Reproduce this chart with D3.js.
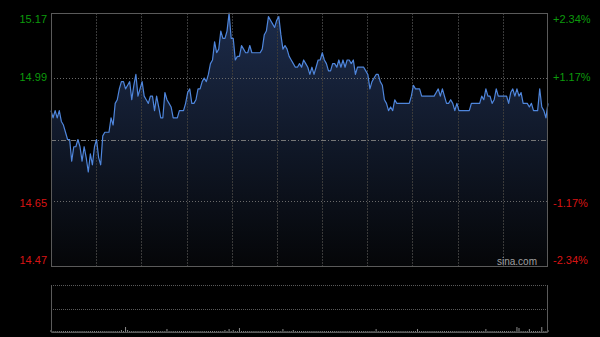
<!DOCTYPE html>
<html>
<head>
<meta charset="utf-8">
<script src="https://cdn.jsdelivr.net/npm/d3@7"></script>
<style>
  html, body { margin: 0; padding: 0; background: #000; }
  svg { display: block; font-family: "Liberation Sans", Arial, sans-serif; }
</style>
</head>
<body>
<div id="chart"></div>
<script>
// price per minute (241 points, 9:30 - 15:00)
const prices = [
  14.90, 14.88, 14.90, 14.88, 14.90, 14.87, 14.86, 14.84, 14.82, 14.82,
  14.76, 14.80, 14.80, 14.82, 14.80, 14.76, 14.80, 14.77, 14.73, 14.78,
  14.75, 14.80, 14.82, 14.77, 14.75, 14.83, 14.84, 14.84, 14.84, 14.88,
  14.86, 14.92, 14.93, 14.96, 14.98, 14.98, 14.96, 14.97, 14.98, 14.93,
  14.97, 15.00, 14.94, 14.96, 14.98, 14.94, 14.93, 14.92, 14.94, 14.94,
  14.90, 14.94, 14.91, 14.88, 14.88, 14.95, 14.93, 14.92, 14.91, 14.88,
  14.88, 14.88, 14.90, 14.90, 14.90, 14.92, 14.95, 14.96, 14.92, 14.92,
  14.93, 14.96, 14.96, 14.98, 14.99, 14.98, 15.00, 15.03, 15.04, 15.09,
  15.06, 15.07, 15.12, 15.10, 15.10, 15.12, 15.17, 15.10, 15.10, 15.04,
  15.05, 15.05, 15.08, 15.07, 15.06, 15.06, 15.08, 15.06, 15.06, 15.06,
  15.06, 15.06, 15.07, 15.11, 15.12, 15.16, 15.15, 15.14, 15.13, 15.15,
  15.16, 15.11, 15.07, 15.08, 15.07, 15.05, 15.04, 15.03, 15.02, 15.02,
  15.03, 15.02, 15.04, 15.03, 15.02, 15.00, 15.02, 15.00, 15.02, 15.04,
  15.04, 15.06, 15.04, 15.03, 15.01, 15.01, 15.03, 15.03, 15.02, 15.04,
  15.02, 15.04, 15.02, 15.04, 15.04, 15.03, 15.04, 15.00, 15.02, 15.02,
  15.02, 15.02, 15.01, 15.00, 14.96, 14.98, 14.99, 15.00, 15.00, 14.98,
  14.97, 14.93, 14.92, 14.90, 14.91, 14.90, 14.93, 14.92, 14.92, 14.92,
  14.92, 14.92, 14.92, 14.92, 14.94, 14.97, 14.96, 14.96, 14.96, 14.94,
  14.94, 14.94, 14.94, 14.94, 14.94, 14.94, 14.95, 14.96, 14.94, 14.96,
  14.94, 14.92, 14.92, 14.93, 14.92, 14.90, 14.92, 14.90, 14.90, 14.90,
  14.90, 14.90, 14.90, 14.92, 14.92, 14.92, 14.92, 14.92, 14.94, 14.93,
  14.96, 14.94, 14.94, 14.92, 14.93, 14.96, 14.94, 14.94, 14.94, 14.94,
  14.94, 14.92, 14.95, 14.96, 14.94, 14.96, 14.94, 14.95, 14.92, 14.92,
  14.92, 14.91, 14.92, 14.90, 14.90, 14.90, 14.96, 14.91, 14.90, 14.88,
  14.92
];

// volume per minute (same index as prices)
const volumes = [
  2, 1, 1, 1, 1, 1, 1, 1, 1, 1, 1, 1, 1, 1, 1, 1, 1, 1, 1, 1,
  1, 1, 1, 1, 1, 1, 1, 1, 1, 1, 1, 1, 1, 1, 2, 1, 5, 2, 1, 1,
  1, 1, 1, 1, 1, 1, 1, 1, 1, 1, 1, 1, 1, 1, 1, 1, 3, 1, 1, 1,
  1, 1, 1, 1, 1, 1, 1, 1, 1, 1, 1, 1, 1, 1, 1, 1, 1, 1, 1, 1,
  1, 1, 1, 1, 2, 1, 3, 1, 2, 1, 1, 4, 1, 1, 1, 1, 1, 1, 1, 1,
  1, 1, 1, 1, 1, 1, 1, 1, 1, 1, 1, 1, 3, 1, 1, 1, 1, 2, 1, 1,
  1, 1, 1, 1, 1, 1, 1, 1, 1, 1, 1, 1, 1, 1, 1, 1, 1, 1, 1, 1,
  1, 1, 1, 1, 1, 1, 1, 1, 1, 1, 1, 1, 1, 1, 1, 1, 1, 3, 1, 1,
  1, 1, 1, 1, 1, 1, 1, 1, 1, 1, 1, 1, 1, 1, 1, 1, 1, 3, 1, 1,
  1, 1, 1, 1, 1, 1, 1, 1, 1, 1, 1, 1, 1, 1, 1, 1, 1, 1, 1, 1,
  1, 1, 1, 1, 1, 1, 1, 1, 1, 1, 3, 1, 1, 1, 1, 1, 1, 1, 1, 1,
  1, 1, 1, 1, 1, 5, 4, 1, 1, 1, 1, 3, 1, 1, 1, 1, 1, 5, 1, 1,
  2
];

const priceTicks = [15.17, 14.99, 14.65, 14.47];
const pctLabels = ["+2.34%", "+1.17%", "-1.17%", "-2.34%"];
const prevClose = 14.82;
const upColor = "#0c9a0c";
const downColor = "#d81414";

const width = 600, height = 337;
const plot = { left: 51, right: 548, top: 13, bottom: 266 };
const vol = { top: 285, bottom: 332 };

const svg = d3.select("#chart").append("svg")
  .attr("width", width)
  .attr("height", height);

svg.append("rect").attr("width", width).attr("height", height).attr("fill", "#000");

const x = d3.scaleLinear().domain([0, prices.length - 1]).range([plot.left, plot.right]);
const y = d3.scaleLinear().domain([14.47, 15.17]).range([plot.bottom, plot.top]);
const yVol = d3.scaleLinear().domain([0, 47]).range([vol.bottom, vol.top]);

// gradient under the price line
const grad = svg.append("defs").append("linearGradient")
  .attr("id", "areaGrad")
  .attr("gradientUnits", "userSpaceOnUse")
  .attr("x1", 0).attr("x2", 0)
  .attr("y1", plot.top).attr("y2", plot.bottom);
grad.append("stop").attr("offset", "0%").attr("stop-color", "#1c2b4a");
grad.append("stop").attr("offset", "100%").attr("stop-color", "#050608");

const area = d3.area()
  .x((d, i) => x(i))
  .y0(plot.bottom)
  .y1((d) => y(d));

svg.append("path")
  .datum(prices)
  .attr("d", area)
  .attr("fill", "url(#areaGrad)");

// vertical grid (11 divisions)
const vTicks = d3.range(1, 11).map((k) => k * (prices.length - 1) / 11);
svg.selectAll(".vgrid")
  .data(vTicks)
  .enter()
  .append("line")
  .attr("x1", (d) => Math.round(x(d)) + 0.5)
  .attr("x2", (d) => Math.round(x(d)) + 0.5)
  .attr("y1", plot.top)
  .attr("y2", plot.bottom)
  .attr("stroke", "#3a3a3a")
  .attr("stroke-dasharray", "2,1");

// horizontal grid
svg.selectAll(".hgrid")
  .data([14.99, 14.65])
  .enter()
  .append("line")
  .attr("x1", plot.left)
  .attr("x2", plot.right)
  .attr("y1", (d) => Math.round(y(d)) + 0.5)
  .attr("y2", (d) => Math.round(y(d)) + 0.5)
  .attr("stroke", "#6a6a6a")
  .attr("stroke-dasharray", "1,2");

// previous close line
svg.append("line")
  .attr("x1", plot.left)
  .attr("x2", plot.right)
  .attr("y1", Math.round(y(prevClose)) + 0.5)
  .attr("y2", Math.round(y(prevClose)) + 0.5)
  .attr("stroke", "#777")
  .attr("stroke-dasharray", "5,2,1,2");

// price line
const line = d3.line()
  .x((d, i) => x(i))
  .y((d) => y(d));

svg.append("path")
  .datum(prices)
  .attr("d", line)
  .attr("fill", "none")
  .attr("stroke", "#4f86dc")
  .attr("stroke-width", 1.2)
  .attr("stroke-linejoin", "round");

// plot frame
svg.append("rect")
  .attr("x", plot.left + 0.5)
  .attr("y", plot.top + 0.5)
  .attr("width", plot.right - plot.left - 1)
  .attr("height", plot.bottom - plot.top)
  .attr("fill", "none")
  .attr("stroke", "#5a5a5a");

// left price labels
const labelY = [19, 77, 203, 260];
svg.selectAll(".plabel")
  .data(priceTicks)
  .enter()
  .append("text")
  .attr("x", 47)
  .attr("y", (d, i) => labelY[i])
  .attr("dy", "0.35em")
  .attr("text-anchor", "end")
  .style("font-size", "11px")
  .attr("fill", (d) => (d > prevClose ? upColor : downColor))
  .text((d) => d.toFixed(2));

// right percent labels
svg.selectAll(".pctlabel")
  .data(pctLabels)
  .enter()
  .append("text")
  .attr("x", 553)
  .attr("y", (d, i) => labelY[i])
  .attr("dy", "0.35em")
  .style("font-size", "11px")
  .attr("fill", (d) => (d[0] === "+" ? upColor : downColor))
  .text((d) => d);

// watermark
svg.append("text")
  .attr("x", 537)
  .attr("y", 265)
  .attr("text-anchor", "end")
  .style("font-size", "10px")
  .attr("fill", "#a0a0a0")
  .text("sina.com");

// volume panel
svg.selectAll(".vgridv")
  .data([vol.top, (vol.top + vol.bottom) / 2])
  .enter()
  .append("line")
  .attr("x1", plot.left)
  .attr("x2", plot.right)
  .attr("y1", (d) => Math.round(d) + 0.5)
  .attr("y2", (d) => Math.round(d) + 0.5)
  .attr("stroke", "#5a5a5a")
  .attr("stroke-dasharray", "1,1");

svg.selectAll(".volbar")
  .data(volumes)
  .enter()
  .append("line")
  .attr("x1", (d, i) => x(i))
  .attr("x2", (d, i) => x(i))
  .attr("y1", vol.bottom)
  .attr("y2", (d) => yVol(d))
  .attr("stroke", "#8a8a8a")
  .attr("stroke-width", 1);

svg.append("path")
  .attr("d", `M${plot.left + 0.5},${vol.top}V${vol.bottom + 0.5}H${plot.right - 0.5}V${vol.top}`)
  .attr("fill", "none")
  .attr("stroke", "#5a5a5a");
</script>
</body>
</html>
